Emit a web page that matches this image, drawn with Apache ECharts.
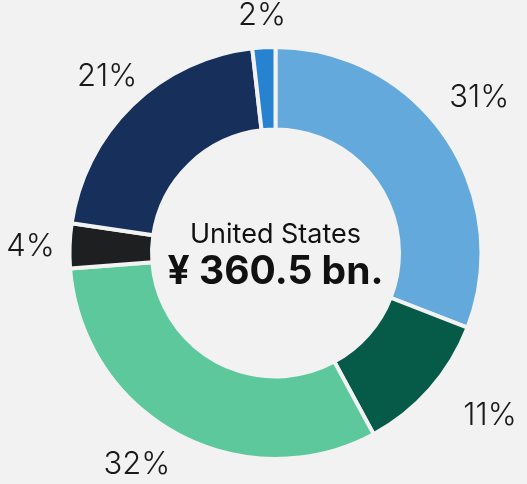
<!DOCTYPE html>
<html>
<head>
<meta charset="utf-8">
<script src="https://cdn.jsdelivr.net/npm/echarts@6/dist/echarts.min.js"></script>
<style>
html,body{margin:0;padding:0;background:#F2F2F2;}
#chart{width:527px;height:484px;}
</style>
</head>
<body>
<div id="chart"></div>
<script>
const categories = ['A', 'B', 'C', 'D', 'E', 'F'];
const values = [30.9, 11.2, 31.7, 3.5, 20.9, 1.8];
const labels = ['31%', '11%', '32%', '4%', '21%', '2%'];
const colors = ['#64A9DC', '#065A48', '#5CC89C', '#1D1F21', '#172F5B', '#2783CF'];
const centerTitle = 'United States';
const centerValue = '¥ 360.5 bn.';

// label placement style: distance from centre and angular nudge (degrees)
const labelDist = [256, 269, 253, 245, 244, 238];
const labelNudge = [-2.9, -4.3, 4.6, -0.4, 0.5, 0];

const CX = 275.5, CY = 253;
const total = values.reduce((a, b) => a + b, 0);
const midAngles = [];
let acc = 0;
values.forEach(v => { midAngles.push((acc + v / 2) / total * 360); acc += v; });

const chart = echarts.init(document.getElementById('chart'), null, {renderer: 'canvas'});
const data = categories.map((c, i) => ({
  name: c,
  value: values[i],
  itemStyle: {color: colors[i]},
  label: {formatter: labels[i]}
}));

chart.setOption({
  backgroundColor: '#F2F2F2',
  animation: false,
  graphic: [
    {type: 'text', x: 275.5, y: 235, style: {text: centerTitle, fontFamily: 'Inter', fontSize: 27, fontWeight: 400, fill: '#111', align: 'center', verticalAlign: 'middle'}},
    {type: 'text', x: 275.5, y: 272, style: {text: centerValue, fontFamily: 'Inter', fontSize: 39, fontWeight: 700, fill: '#111', align: 'center', verticalAlign: 'middle'}}
  ],
  series: [{
    type: 'pie',
    center: [CX, CY],
    radius: [123.5, 206],
    startAngle: 90,
    clockwise: true,
    avoidLabelOverlap: false,
    itemStyle: {borderColor: '#F2F2F2', borderWidth: 4},
    label: {
      show: true,
      position: 'outside',
      alignTo: 'none',
      distanceToLabelLine: 0,
      fontFamily: 'Inter',
      fontSize: 31,
      fontWeight: 300,
      color: '#1a1a1a'
    },
    labelLine: {show: false, length: 40, length2: 0},
    labelLayout: function (p) {
      const i = p.dataIndex;
      const a = (midAngles[i] + labelNudge[i]) * Math.PI / 180;
      return {
        x: CX + labelDist[i] * Math.sin(a),
        y: CY - labelDist[i] * Math.cos(a),
        align: 'center',
        verticalAlign: 'middle'
      };
    },
    emphasis: {disabled: true},
    data: data
  }]
});
</script>
</body>
</html>
